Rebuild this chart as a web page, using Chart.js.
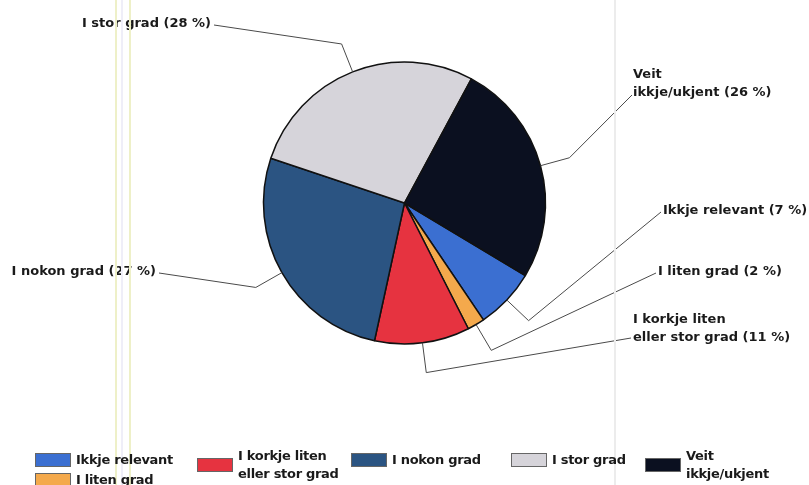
<!DOCTYPE html>
<html lang="nn">
<head>
    <meta charset="UTF-8" />
    <title>Fordeling</title>
    <script src="https://cdn.jsdelivr.net/npm/chart.js"></script>
    <style>
        body { margin: 0; background: #fff; }
        #wrap { position: relative; width: 809px; height: 485px; overflow: hidden; font-family: "DejaVu Sans", Verdana, sans-serif; }
        .scanline { position: absolute; top: 0; bottom: 0; width: 2px; }
        .legend-item { position: absolute; display: flex; align-items: center; font-size: 13px; font-weight: bold; line-height: 18px; color: #1a1a1a; letter-spacing: -0.3px; }
        .legend-item .box { width: 36px; height: 14px; margin-right: 5px; border: 1px solid #666; box-sizing: border-box; }
    </style>
</head>
<body>
    <div id="wrap">
        <div class="scanline" style="left:115px;background:#eef0c8"></div>
        <div class="scanline" style="left:121px;background:#efeef8"></div>
        <div class="scanline" style="left:129px;background:#eef0c8"></div>
        <div class="scanline" style="left:614px;background:#ececec"></div>
        <canvas id="pieChart" width="809" height="485"></canvas>
        <div id="legend"></div>
    </div>

    <script>
        // values (percent)
        const categories = ['Ikkje relevant', 'I liten grad', 'I korkje liten eller stor grad', 'I nokon grad', 'I stor grad', 'Veit ikkje/ukjent'];
        const shares = [7, 2, 11, 27, 28, 26];
        const colours = ['#3b6fd1', '#f4a94c', '#e63340', '#2b5482', '#d6d4da', '#0b1020'];
        const legendLines = [['Ikkje relevant'], ['I liten grad'], ['I korkje liten', 'eller stor grad'], ['I nokon grad'], ['I stor grad'], ['Veit', 'ikkje/ukjent']];
        const calloutLines = [['Ikkje relevant (7 %)'], ['I liten grad (2 %)'], ['I korkje liten', 'eller stor grad (11 %)'], ['I nokon grad (27 %)'], ['I stor grad (28 %)'], ['Veit', 'ikkje/ukjent (26 %)']];

        // where each callout text sits and where its leader line ends
        const calloutLayout = [
            { x: 663, y: 211, align: 'left', endX: 661, endY: 212 },
            { x: 658, y: 272, align: 'left', endX: 656, endY: 273 },
            { x: 633, y: 320, align: 'left', endX: 631, endY: 338 },
            { x: 156, y: 272, align: 'right', endX: 159, endY: 273 },
            { x: 211, y: 24, align: 'right', endX: 214, endY: 25 },
            { x: 633, y: 75, align: 'left', endX: 632, endY: 95 }
        ];
        const legendLayout = [
            { left: 35, top: 451 }, { left: 35, top: 471 }, { left: 197, top: 447 },
            { left: 351, top: 451 }, { left: 511, top: 451 }, { left: 645, top: 447 }
        ];

        const calloutPlugin = {
            id: 'callouts',
            afterDraw(chart) {
                const ctx = chart.ctx;
                const arcs = chart.getDatasetMeta(0).data;
                ctx.save();
                ctx.font = 'bold 13px "DejaVu Sans", Verdana, sans-serif';
                ctx.textBaseline = 'middle';
                arcs.forEach((arc, i) => {
                    const p = arc.getProps(['x', 'y', 'startAngle', 'endAngle', 'outerRadius'], true);
                    const mid = (p.startAngle + p.endAngle) / 2;
                    const ex = p.x + Math.cos(mid) * p.outerRadius;
                    const ey = p.y + Math.sin(mid) * p.outerRadius;
                    const kx = p.x + Math.cos(mid) * (p.outerRadius + 30);
                    const ky = p.y + Math.sin(mid) * (p.outerRadius + 30);
                    const lay = calloutLayout[i];
                    ctx.strokeStyle = '#4a4a4a';
                    ctx.lineWidth = 1;
                    ctx.beginPath();
                    ctx.moveTo(ex, ey);
                    ctx.lineTo(kx, ky);
                    ctx.lineTo(lay.endX, lay.endY);
                    ctx.stroke();
                    ctx.fillStyle = '#1a1a1a';
                    ctx.textAlign = lay.align;
                    calloutLines[i].forEach((line, j) => {
                        ctx.fillText(line, lay.x, lay.y + j * 18);
                    });
                });
                ctx.restore();
            }
        };

        new Chart(document.getElementById('pieChart'), {
            type: 'pie',
            data: {
                labels: categories,
                datasets: [{
                    data: shares,
                    backgroundColor: colours,
                    borderColor: '#111',
                    borderWidth: 1.5
                }]
            },
            options: {
                responsive: false,
                animation: false,
                rotation: 121,
                radius: 141,
                layout: { padding: { top: 0, bottom: 79, left: 0, right: 0 } },
                plugins: {
                    legend: { display: false },
                    tooltip: { enabled: false }
                }
            },
            plugins: [calloutPlugin]
        });

        const legend = document.getElementById('legend');
        categories.forEach((name, i) => {
            const item = document.createElement('div');
            item.className = 'legend-item';
            item.style.left = legendLayout[i].left + 'px';
            item.style.top = legendLayout[i].top + 'px';
            item.innerHTML = `<span class="box" style="background:${colours[i]}"></span><span>${legendLines[i].join('<br>')}</span>`;
            legend.appendChild(item);
        });
    </script>
</body>
</html>
